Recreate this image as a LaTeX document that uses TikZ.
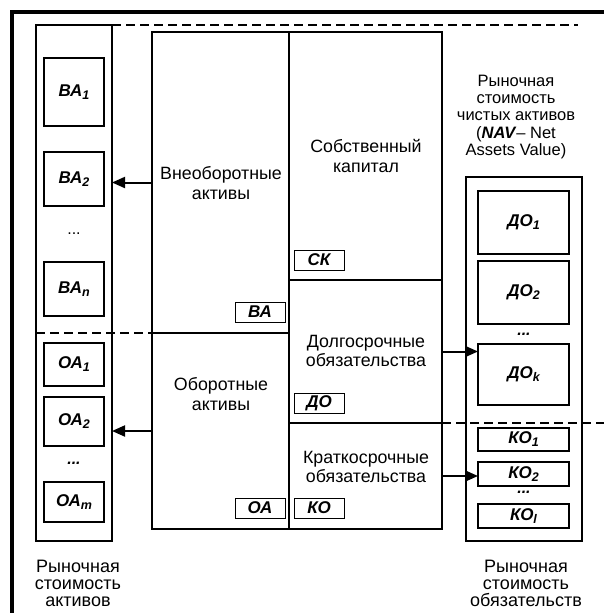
\documentclass[tikz,border=0pt]{standalone}
\usepackage{fontspec}
\setmainfont{Liberation Sans}
\usetikzlibrary{arrows.meta}
% \rbox[style]{name}{x1}{y1}{x2}{y2}{text}
\newcommand\rbox[7][]{%
  \node[#1, minimum width={(#5-#3)*1pt}, minimum height={(#6-#4)*1pt}] (#2) at ({(#3+#5)/2},{(#4+#6)/2}) {#7};}
\newcommand\bi[2]{\textbf{\textit{#1\raisebox{-3pt}{\fontsize{12.5}{12.5}\selectfont #2}}}}
\begin{document}
\begin{tikzpicture}[x=1pt,y=-1pt,
  cellst/.style={draw, line width=2pt, inner sep=0pt, outer sep=0pt},
  colst/.style={draw, line width=2pt, inner sep=0pt, outer sep=0pt},
  itemst/.style={draw, line width=2pt, inner sep=0pt, outer sep=0pt, font=\fontsize{17}{18}\selectfont},
  labst/.style={draw, line width=1pt, fill=white, inner sep=0pt, outer sep=0pt, font=\bfseries\itshape\fontsize{17}{18}\selectfont},
  txt/.style={align=center, inner sep=0pt, font=\fontsize{17.8}{19.5}\selectfont},
  dotst/.style={inner sep=0pt, text height=3pt, text depth=0pt, font=\bfseries\itshape\fontsize{16}{18}\selectfont},
  arr/.style={line width=2pt, -{Triangle[length=13pt,width=11pt]}},
  dsh/.style={line width=2pt, dash pattern=on 9pt off 5pt}]
\useasboundingbox (0,0) rectangle (604,613);
% outer frame
\draw[line width=4pt] (11.5,613) -- (11.5,11.5) -- (604,11.5);
% left column
\rbox[colst]{colL}{36}{25}{112}{541}{}
% main box cells
\rbox[cellst]{cellVA}{152}{32}{289}{333}{}
\rbox[cellst]{cellOA}{152}{333}{289}{529}{}
\rbox[cellst]{cellSK}{289}{32}{442}{280}{}
\rbox[cellst]{cellDO}{289}{280}{442}{423}{}
\rbox[cellst]{cellKO}{289}{423}{442}{529}{}
% right column
\rbox[colst]{colR}{466}{177}{582}{541}{}
% dashed lines
\coordinate (topend) at (578,25);
\coordinate (rightend) at (604,423);
\draw[dsh] (colL.north east) -- (topend);
\draw[dsh] (colL.west |- cellVA.south) -- (cellVA.south west);
\draw[dsh] (cellDO.south east) -- (rightend);
% cell texts
\node[txt] (tVA) at (221,183) {Внеоборотные\\активы};
\node[txt] (tSK) at (366,156) {Собственный\\капитал};
\node[txt] (tDO) at (366,351) {Долгосрочные\\обязательства};
\node[txt] (tOA) at (221,394) {Оборотные\\активы};
\node[txt] (tKO) at (366,467) {Краткосрочные\\обязательства};
% label boxes
\rbox[labst]{lVA}{235}{302}{285}{322}{ВА}
\rbox[labst]{lOA}{235}{498}{285}{518}{ОА}
\rbox[labst]{lSK}{294}{250}{344}{270}{СК}
\rbox[labst]{lDO}{294}{393}{344}{413}{ДО}
\rbox[labst]{lKO}{294}{498}{344}{518}{КО}
% left column items
\rbox[itemst]{VA1}{44}{58}{104}{126}{\bi{ВА}{1}}
\rbox[itemst]{VA2}{44}{152}{104}{206}{\bi{ВА}{2}}
\node[inner sep=0pt, text height=3pt, text depth=0pt, font=\fontsize{16}{18}\selectfont] (dVA) at (74,233) {...};
\rbox[itemst]{VAn}{44}{262}{104}{316}{\bi{ВА}{n}}
\rbox[itemst]{OA1}{44}{343}{104}{386}{\bi{ОА}{1}}
\rbox[itemst]{OA2}{44}{397}{104}{446}{\bi{ОА}{2}}
\node[dotst] (dOA) at (74,463) {...};
\rbox[itemst]{OAm}{44}{482}{104}{522}{\bi{ОА}{m}}
% right column items
\rbox[itemst]{DO1}{478}{191}{569}{254}{\bi{ДО}{1}}
\rbox[itemst]{DO2}{478}{261}{569}{324}{\bi{ДО}{2}}
\node[dotst] (dDO) at (524,334) {...};
\rbox[itemst]{DOk}{478}{344}{569}{405}{\bi{ДО}{k}}
\rbox[itemst]{KO1}{478}{428}{569}{451}{\bi{КО}{1}}
\rbox[itemst]{KO2}{478}{462}{569}{486}{\bi{КО}{2}}
\node[dotst] (dKO) at (524,492) {...};
\rbox[itemst]{KOl}{478}{504}{569}{528}{\bi{КО}{l}}
% side texts
\node[txt, font=\fontsize{16.5}{17.3}\selectfont] (tNAV) at (516,117) {Рыночная\\стоимость\\чистых активов\\(\textbf{\textit{NAV}}– Net\\Assets Value)};
\node[txt, font=\fontsize{18}{17}\selectfont] (tMA) at (78,583) {Рыночная\\стоимость\\активов};
\node[txt, font=\fontsize{18}{17}\selectfont] (tMO) at (526,583) {Рыночная\\стоимость\\обязательств};
% arrows
\draw[arr] (cellVA.west) -- (cellVA.west -| colL.east);
\draw[arr] (cellOA.west) -- (cellOA.west -| colL.east);
\draw[arr] (cellDO.east) -- (cellDO.east -| DOk.west);
\draw[arr] (cellKO.east) -- (cellKO.east -| KO2.west);
\end{tikzpicture}
\end{document}
